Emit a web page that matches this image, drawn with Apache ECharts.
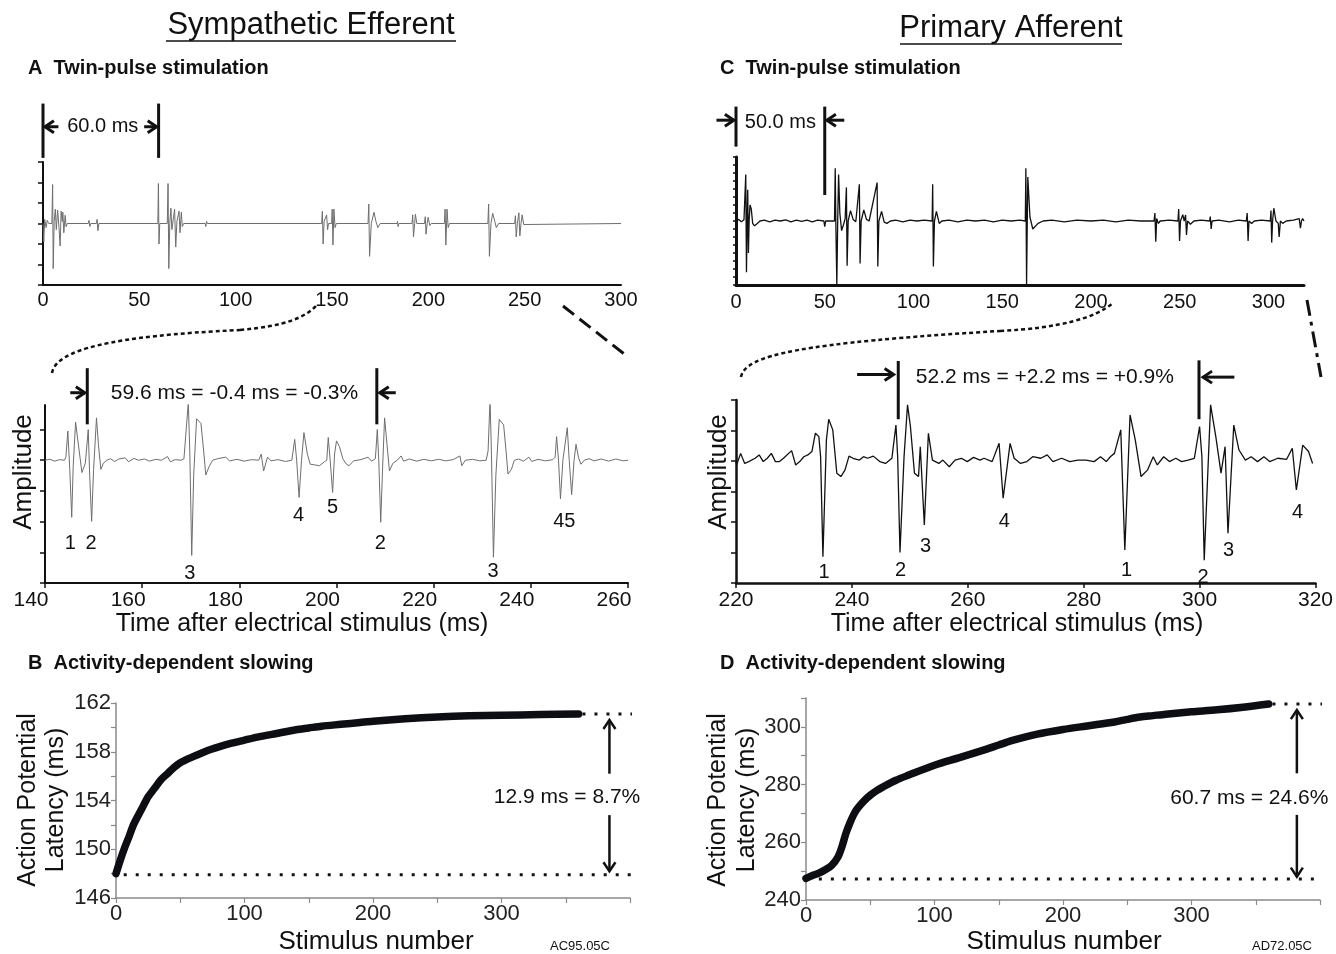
<!DOCTYPE html>
<html><head><meta charset="utf-8">
<script src="https://cdn.jsdelivr.net/npm/echarts@6/dist/echarts.min.js"></script>
<style>html,body{margin:0;padding:0;background:#fff}#c{width:1336px;height:954px}</style>
</head><body><div id="c"></div>
<script>
// ---------------- DATA ----------------
// A (top): sympathetic efferent, full sweep 0-300 ms, amplitude in tick units
const aTopTrace = [[0,0],[0.4,-0.9],[0.9,0.2],[1.6,-0.2],[2.2,0.15],[3.0,0],[4.6,0],[5.0,1.9],[5.3,-2.2],[5.8,0.1],[6.4,0.7],[6.9,-0.3],[7.6,0.65],[8.3,-0.2],[8.9,-1.1],[9.4,0.6],[10.0,0.1],[10.3,0.55],[10.8,-0.45],[11.5,0.4],[12.0,-0.15],[12.6,0],[23.5,0],[23.9,0.15],[24.3,-0.15],[24.8,0],[27.7,0],[28.1,0.2],[28.5,-0.35],[29,0],
[59.6,0],[59.9,1.95],[60.2,-1.0],[60.6,0],[64.5,0],[64.9,1.95],[65.3,-2.2],[65.8,0],[66.4,0.75],[66.9,-0.3],[68.3,0.7],[68.9,-1.15],[69.5,0.1],[70.6,0.6],[71.1,-0.45],[71.8,0.55],[72.3,-0.15],[73,0],[84.2,0],[84.5,-0.15],[84.9,0.1],[85.3,0],
[144.6,0],[145.0,0.6],[145.4,-1.0],[145.9,0.1],[147.2,0.42],[147.7,-0.3],[148.2,0],[149.8,0],[150.1,0.7],[150.5,-1.05],[151.0,0.7],[151.6,-0.2],[152.2,0],
[168.7,0],[169.1,0.95],[169.5,-1.6],[170.4,0],[171.8,0.55],[172.8,0.1],[173.8,-0.2],[175,0],[183.7,0],[184,0.1],[184.3,-0.15],[184.7,0],
[191.5,0],[191.9,0.42],[192.3,-0.65],[192.9,0],[193.3,0.45],[194.0,0],[198.0,0],[198.4,0.33],[198.8,-0.52],[199.4,0],[199.9,0.3],[200.8,-0.1],[201.5,0],
[208.3,0],[208.7,0.7],[209.1,-1.05],[209.7,0.7],[210.3,-0.2],[211,0],
[230.9,0],[231.3,0.95],[231.7,-1.6],[232.5,0],[233.4,0.5],[234.5,0.1],[235.3,-0.2],[236.5,0],
[244.8,0],[245.2,0.38],[245.6,-0.65],[246.2,0],[247.0,0.52],[247.5,-0.6],[248.1,0],[248.7,0.42],[249.5,-0.05],[250.2,0],[300,0]];

// A (bottom): expanded 140-260 ms
const aBottomTrace = [[140,0],[141,0.03],[142,-0.03],[143,0.02],[144,0],[144.3,0.1],[144.7,0.95],[145.1,-0.3],[145.5,-1.86],[145.8,-0.2],[146.3,1.24],[146.8,0.6],[147.6,-0.4],[148.3,-0.1],[148.9,1.0],[149.2,-0.5],[149.6,-1.99],[150.0,-0.3],[150.6,1.38],[151.0,0.5],[151.5,-0.3],[152.0,-0.1],[152.7,0],[153.5,0.05],[154.3,-0.04],[155.2,0.04],[156.5,0.08],[157.2,-0.05],[158.3,0.06],[159.2,0],[160.5,0.04],[161.5,-0.03],[162.8,0.03],[164,0],[165.2,0.12],[165.8,-0.05],[166.8,0.02],[168,0],[168.6,0.05],[169.5,1.89],[169.8,0.3],[170.2,-3.1],[170.6,-0.5],[171.2,1.35],[172.1,1.2],[172.6,0.4],[173.1,-0.48],[173.8,-0.2],[174.5,0],[175.5,0.05],[177.2,0.1],[178,-0.02],[179.5,0.03],[181,-0.03],[182.5,0.02],[184,0],[184.5,0.2],[185.0,-0.35],[185.8,0.1],[186.5,-0.02],[188,0.02],[189.5,-0.04],[190.8,0],[191.4,0.68],[191.8,0],[192.3,-1.21],[192.8,0],[193.3,0.9],[194,0.2],[194.6,-0.13],[195.5,-0.15],[196.5,-0.18],[197.5,-0.05],[198.0,0],[198.3,0.74],[198.7,0],[199.2,-1.05],[199.6,0.2],[200.0,0.63],[200.6,0.45],[201.3,0.05],[202.0,-0.12],[202.6,-0.18],[203.5,-0.02],[205,0.02],[206.5,0.1],[207.2,-0.03],[208.0,0.05],[208.4,1.0],[208.7,0],[209.1,-2.02],[209.5,-0.2],[209.9,1.38],[210.4,0.5],[210.9,-0.35],[211.6,-0.1],[212.5,0],[213.3,0.14],[213.8,-0.03],[215,0.04],[216.5,-0.03],[218,0.03],[219.5,-0.02],[221,0.03],[222.5,-0.02],[224,0.02],[225.4,0.14],[225.8,-0.18],[226.5,0],[228,0.03],[229.5,-0.02],[230.8,0],[231.2,0.3],[231.6,1.98],[231.9,0.2],[232.3,-3.16],[232.8,-0.5],[233.5,1.33],[234.4,1.15],[234.9,0.3],[235.3,-0.45],[236.0,-0.3],[236.6,0],[237.5,0.04],[238.5,-0.03],[239.6,0.1],[240.2,-0.04],[241.5,0.03],[243,-0.02],[244.5,0.02],[245.0,0.1],[245.3,0.77],[245.7,0],[246.1,-1.26],[246.6,0],[247.5,1.06],[247.9,0],[248.4,-1.12],[248.9,0],[249.3,0.52],[249.8,0.1],[250.3,-0.13],[251,0],[252,0.05],[253,-0.02],[254.5,0.04],[256,-0.03],[257.5,0.04],[259,-0.02],[260,0]];

// C (top): primary afferent, full sweep 0-320 ms
const cTopTrace = [[0,0],[1.5,0.2],[3,-0.1],[4.5,0.15],[5.2,0],[5.5,5.8],[5.9,-6.4],[6.3,0.5],[6.6,3.9],[7.0,-4.0],[7.4,0],[7.9,2.0],[8.6,1.5],[9.4,-0.3],[10.4,-0.6],[12,-0.3],[13.5,0],[16,0.1],[19,-0.1],[22,0.1],[25,0],[28,0.15],[31,-0.1],[34,0.1],[37,-0.05],[40,0.1],[43,-0.1],[46,0.1],[49.5,0],[50,-0.7],[50.5,0],[55.5,0],[55.9,6.6],[56.3,-1],[56.8,-7.9],[57.3,0],[57.8,5.8],[58.5,1.0],[59.5,-1.2],[60.5,-0.5],[61.5,0.3],[62.2,4.2],[62.6,-5.6],[63.2,0],[64.5,1.3],[66,0.2],[67.5,-0.1],[69.5,4.6],[69.9,-5.3],[70.5,0],[72,1.4],[73.5,0.2],[75,0],[79.5,4.8],[79.9,-5.7],[80.5,0],[82,1.2],[83.5,-0.15],[85,-0.3],[87,0],[90,0.1],[94,-0.1],[98,0.1],[102,0],[106,0.1],[110.5,0],[110.8,4.6],[111.2,-5.7],[111.8,0],[112.9,1.2],[114.5,-0.3],[116,0],[120,0.1],[125,-0.1],[130,0.1],[135,0],[140,0.1],[145,-0.1],[150,0.1],[155,0],[160,0.1],[163.0,0],[163.3,6.6],[163.7,-7.9],[164.1,0],[164.4,5.5],[165.6,0.5],[167.2,-1.0],[170.2,-0.3],[173,0],[178,0.1],[185,-0.1],[192,0.1],[200,0],[207,0.1],[214,-0.1],[221,0.1],[228,0],[235.5,0],[236,1.0],[236.5,-2.6],[237,0.3],[238,-0.3],[239,0],[244,0.1],[249,0],[249.4,1.5],[249.9,-2.5],[250.4,0],[251.7,0.8],[252.5,0],[253.3,0.75],[253.8,-1.75],[254.4,0],[256,-0.4],[258,0],[262,0.1],[266.8,0],[267.2,0.55],[267.7,-1.0],[268.2,0],[272,0.1],[278,-0.1],[283,0.1],[287.5,0],[288,1.0],[288.5,-2.5],[289,0],[290.5,-0.3],[292,0],[296,0.1],[301,0],[301.4,1.3],[301.8,-2.7],[302.3,0],[303,1.6],[304.2,0],[305.5,-0.3],[306,-2.0],[306.7,0],[308,-0.3],[310,0],[314,0.1],[317.3,0.3],[318,-0.9],[318.6,0],[319.2,0.3],[320,0]];

// C (bottom): expanded 220-320 ms
const cBottomTrace = [[220,-0.02],[220.1,-0.13],[220.8,0.25],[221.5,-0.08],[222.2,-0.02],[223.3,0.09],[224.0,0.2],[224.7,-0.02],[225.4,0.09],[226.1,0.25],[226.8,-0.02],[227.5,-0.02],[228.2,0.09],[229.6,0.34],[230.3,-0.13],[231.0,-0.02],[231.7,0.14],[232.4,0.2],[233.1,0.31],[233.7,0.91],[234.3,0.8],[234.6,0.14],[235.0,-3.14],[235.6,0.69],[236.0,1.37],[236.7,1.02],[237.4,-0.4],[238.1,-0.51],[238.8,-0.3],[239.5,0.16],[240.2,0.09],[241.3,0.03],[242.0,0.14],[242.7,0.09],[243.7,0.16],[244.8,-0.02],[245.8,-0.08],[246.9,0.09],[247.6,1.18],[247.9,0.14],[248.3,-3.0],[249.0,0.14],[249.6,1.84],[250.1,1.13],[250.8,-0.4],[251.5,-0.51],[251.8,0.47],[252.5,-2.1],[253.2,0.91],[253.9,0.03],[255.0,-0.08],[255.7,0.03],[256.8,-0.19],[257.8,0.03],[258.9,0.09],[259.9,-0.02],[261.0,0.12],[262.1,0.03],[262.8,0.09],[264.2,-0.02],[265.4,0.58],[266.1,-1.22],[267.3,0.58],[268.0,0.09],[269.1,-0.08],[270.2,-0.02],[271.2,0.14],[272.6,0.09],[273.7,0.2],[274.7,-0.02],[276.2,0.09],[277.6,-0.02],[279.0,0.03],[280.4,0.03],[281.8,-0.02],[282.9,0.14],[283.9,-0.02],[284.6,0.14],[285.3,0.25],[286.4,1.02],[287.1,-2.92],[288.0,1.51],[288.9,0.69],[289.9,-0.51],[291.0,-0.3],[292.0,0.14],[292.7,-0.13],[293.8,0.14],[294.8,-0.02],[295.9,0.09],[296.9,-0.02],[298.0,0.03],[299.1,0.09],[300.0,1.13],[300.4,0.14],[300.8,-3.25],[301.9,1.84],[302.8,0.8],[303.7,-0.4],[304.4,0.47],[304.9,-2.37],[305.9,1.18],[306.8,0.36],[307.9,0.03],[308.9,0.14],[310.0,-0.02],[311.1,0.14],[312.1,-0.02],[313.5,0.09],[315.0,0.05],[316.0,0.42],[316.7,-0.95],[317.8,0.52],[318.8,0.31],[319.5,-0.08]];

// B: latency vs stimulus number (sympathetic)
const bLatency = [[0,148.0],[3,149.0],[7,150.2],[10,151.0],[14,152.1],[20,153.3],[25,154.3],[30,155.0],[35,155.7],[40,156.2],[45,156.7],[50,157.1],[60,157.6],[70,158.05],[80,158.4],[90,158.7],[100,158.95],[110,159.2],[125,159.5],[140,159.8],[150,159.95],[160,160.1],[175,160.25],[190,160.4],[200,160.5],[225,160.7],[250,160.85],[275,160.95],[300,161.0],[330,161.05],[360,161.1]];
const bBaseline = 147.9, bPlateau = 161.1;

// D: latency vs stimulus number (afferent)
const dLatency = [[0,247.5],[5,248.5],[10,249.3],[15,250.5],[20,252.0],[25,255.0],[28,258.5],[31,263.0],[34,266.5],[37,269.5],[40,271.7],[45,274.3],[50,276.3],[55,277.9],[60,279.2],[70,281.5],[80,283.3],[100,286.7],[120,289.4],[140,292.2],[150,293.7],[160,295.2],[180,297.5],[200,299.1],[220,300.4],[240,301.7],[250,302.6],[260,303.4],[270,303.9],[280,304.4],[300,305.2],[320,305.9],[340,306.8],[360,307.9]];
const dBaseline = 247.3, dPlateau = 307.9;

const aUnitNames = ['1','2','3','4','5','2','3','45'];
const cUnitNames = ['1','2','3','4','1','2','3','4'];

// ---------------- LAYOUT ----------------
const FONT = '"Liberation Sans", Arial, Helvetica, sans-serif';
const INK = '#111';

const aUnitPos = [[145.2,-2.72],[149.5,-2.72],[169.8,-3.7],[192.2,-1.8],[199.2,-1.54],[209.0,-2.72],[232.2,-3.64],[246.9,-2.0]];
const cUnitPos = [[235.2,-3.66],[248.4,-3.6],[252.7,-2.79],[266.3,-1.97],[287.4,-3.6],[300.6,-3.83],[305.0,-2.95],[316.9,-1.69]];

const annA = [
  {type:'seg', x1:0, y1:3.2, x2:0, y2:5.85},
  {type:'seg', x1:60, y1:3.2, x2:60, y2:5.85},
  {type:'arrow', x1:8, y1:4.72, x2:1, y2:4.72},
  {type:'arrow', x1:52.5, y1:4.72, x2:59, y2:4.72},
  {type:'text', x1:31, y1:4.72, text:'60.0 ms', size:20}
];
const annA2 = [
  {type:'seg', x1:148.7, y1:1.17, x2:148.7, y2:3.0},
  {type:'seg', x1:208.3, y1:1.17, x2:208.3, y2:3.0},
  {type:'arrow', x1:145.2, y1:2.2, x2:148.2, y2:2.2},
  {type:'arrow', x1:212.2, y1:2.2, x2:208.9, y2:2.2},
  {type:'text', x1:179, y1:2.2, text:'59.6 ms = -0.4 ms = -0.3%', size:21}
].concat(aUnitNames.map((n,i)=>({type:'text', x1:aUnitPos[i][0], y1:aUnitPos[i][1], text:n, size:20})));
const annC = [
  {type:'seg', x1:0, y1:9.3, x2:0, y2:14.3},
  {type:'seg', x1:50, y1:3.25, x2:50, y2:14.3},
  {type:'arrow', x1:-11, y1:12.6, x2:-1.2, y2:12.6},
  {type:'arrow', x1:61, y1:12.6, x2:51.2, y2:12.6},
  {type:'text', x1:25, y1:12.3, text:'50.0 ms', size:20}
];
const annC2 = [
  {type:'seg', x1:248.0, y1:1.37, x2:248.0, y2:3.28},
  {type:'seg', x1:299.9, y1:1.37, x2:299.9, y2:3.3},
  {type:'arrow', x1:240.9, y1:2.84, x2:247.2, y2:2.84},
  {type:'arrow', x1:306.0, y1:2.75, x2:300.6, y2:2.75},
  {type:'text', x1:273.3, y1:2.75, text:'52.2 ms = +2.2 ms = +0.9%', size:21}
].concat(cUnitNames.map((n,i)=>({type:'text', x1:cUnitPos[i][0], y1:cUnitPos[i][1], text:n, size:20})));
const annB = [
  {type:'arrow', x1:384, y1:156.2, x2:384, y2:160.6, w:2.5},
  {type:'arrow', x1:384, y1:152.8, x2:384, y2:148.2, w:2.5},
  {type:'text', x1:351, y1:154.3, text:'12.9 ms = 8.7%', size:21}
];
const annD = [
  {type:'arrow', x1:382, y1:283.9, x2:382, y2:305.8, w:2.5},
  {type:'arrow', x1:382, y1:269.5, x2:382, y2:248.1, w:2.5},
  {type:'text', x1:345, y1:275.2, text:'60.7 ms = 24.6%', size:21}
];

function annotSeries(gi, items) {
  return {
    type:'custom', xAxisIndex:gi, yAxisIndex:gi, silent:true, clip:false, z:5,
    data: items.map(a => [a.x1, a.y1]),
    renderItem: function (params, api) {
      const a = items[params.dataIndex];
      const p1 = api.coord([a.x1, a.y1]);
      if (a.type === 'text') {
        return {type:'text', style:{text:a.text, x:p1[0], y:p1[1], align:'center', verticalAlign:'middle',
          fontSize:a.size || 20, fontFamily:FONT, fill:INK}};
      }
      const p2 = api.coord([a.x2, a.y2]);
      const w = a.w || 3;
      const ch = [{type:'line', shape:{x1:p1[0], y1:p1[1], x2:p2[0], y2:p2[1]}, style:{stroke:INK, lineWidth:w}}];
      if (a.type === 'arrow') {
        const dx = p2[0]-p1[0], dy = p2[1]-p1[1], L = Math.hypot(dx,dy) || 1;
        const ux = dx/L, uy = dy/L, nx = -uy, ny = ux, hl = 9, hw = 6;
        ch.push({type:'polyline', shape:{points:[[p2[0]-ux*hl+nx*hw, p2[1]-uy*hl+ny*hw],[p2[0],p2[1]],[p2[0]-ux*hl-nx*hw, p2[1]-uy*hl-ny*hw]]},
          style:{stroke:INK, lineWidth:w, fill:null}});
      }
      return {type:'group', children:ch};
    }
  };
}

function ax(o) {
  const base = {type:'value', splitLine:{show:false},
    axisLine:{show:true, onZero:false, lineStyle:{color:INK, width:2}},
    axisTick:{show:false}, axisLabel:{show:false}};
  return Object.assign(base, o);
}
const lbl = (extra) => Object.assign({show:true, color:INK, fontFamily:FONT, fontSize:20}, extra);
const grayLine = {show:true, onZero:false, lineStyle:{color:'#8a8a8a', width:1.5}};
const grayTick = {show:true, length:5, lineStyle:{color:'#8a8a8a', width:1.2}};

const option = {
  animation:false,
  backgroundColor:'#fff',
  grid:[
    {left:43, top:162, width:578, height:123},
    {left:45, top:405, width:583, height:178},
    {left:736, top:157, width:568, height:128},
    {left:736, top:400, width:583, height:183},
    {left:116, top:703, width:514, height:195},
    {left:806, top:698, width:514, height:202}
  ],
  xAxis:[
    ax({gridIndex:0, min:0, max:300, interval:50, axisLabel:lbl({margin:5})}),
    ax({gridIndex:1, min:140, max:260, interval:20,
        axisTick:{show:true, length:5, lineStyle:{color:INK, width:1.5}},
        axisLabel:lbl({margin:7, fontSize:21, padding:[0,28,0,0]})}),
    ax({gridIndex:2, min:0, max:320, interval:50, axisLine:{show:true, onZero:false, lineStyle:{color:INK, width:3}},
        axisLabel:lbl({margin:7, formatter:v => (v % 50 === 0 ? String(v) : '')})}),
    ax({gridIndex:3, min:220, max:320, interval:20, axisLine:{show:true, onZero:false, lineStyle:{color:INK, width:2.5}},
        axisTick:{show:true, length:5, lineStyle:{color:INK, width:1.5}}, axisLabel:lbl({margin:7, fontSize:21})}),
    ax({gridIndex:4, min:0, max:400, interval:50, axisLine:grayLine, axisTick:grayTick,
        axisLabel:lbl({margin:5, fontSize:22, color:'#222', formatter:v => (v % 100 === 0 && v < 400 ? String(v) : '')})}),
    ax({gridIndex:5, min:0, max:400, interval:50, axisLine:grayLine, axisTick:grayTick,
        axisLabel:lbl({margin:5, fontSize:22, color:'#222', formatter:v => (v % 100 === 0 && v < 400 ? String(v) : '')})})
  ],
  yAxis:[
    ax({gridIndex:0, min:-3, max:3, interval:1, axisTick:{show:true, length:5, lineStyle:{color:INK, width:1.5}}}),
    ax({gridIndex:1, min:-4, max:1.8, interval:1, axisTick:{show:true, length:5, customValues:[-4,-3,-2,-1,0,1], lineStyle:{color:INK, width:1.5}}}),
    ax({gridIndex:2, min:-8, max:8, interval:1, axisLine:{show:true, onZero:false, lineStyle:{color:INK, width:3}},
        axisTick:{show:true, length:3, lineStyle:{color:INK, width:1.5}}}),
    ax({gridIndex:3, min:-4, max:2, interval:1, axisLine:{show:true, onZero:false, lineStyle:{color:INK, width:2.5}},
        axisTick:{show:true, length:5, lineStyle:{color:INK, width:1.5}}}),
    ax({gridIndex:4, min:146, max:162, interval:2, axisLine:grayLine, axisTick:grayTick,
        axisLabel:lbl({margin:5, fontSize:22, color:'#222', formatter:v => ((v - 146) % 4 === 0 ? String(v) : '')})}),
    ax({gridIndex:5, min:240, max:310, interval:10, axisLine:grayLine, axisTick:grayTick,
        axisLabel:lbl({margin:5, fontSize:22, color:'#222', formatter:v => ((v - 240) % 20 === 0 && v <= 300 ? String(v) : '')})})
  ],
  series:[
    {type:'line', xAxisIndex:0, yAxisIndex:0, data:aTopTrace, showSymbol:false, lineStyle:{color:'#6e6e6e', width:1}},
    {type:'line', xAxisIndex:1, yAxisIndex:1, data:aBottomTrace, showSymbol:false, lineStyle:{color:'#6e6e6e', width:1}},
    {type:'line', xAxisIndex:2, yAxisIndex:2, data:cTopTrace, showSymbol:false, lineStyle:{color:INK, width:1.3}},
    {type:'line', xAxisIndex:3, yAxisIndex:3, data:cBottomTrace, showSymbol:false, lineStyle:{color:INK, width:1.3}},
    {type:'line', xAxisIndex:4, yAxisIndex:4, data:bLatency, showSymbol:false, smooth:0.3,
      lineStyle:{color:'#0d0d14', width:7.5, cap:'round', join:'round'}},
    {type:'line', xAxisIndex:5, yAxisIndex:5, data:dLatency, showSymbol:false, smooth:0.3,
      lineStyle:{color:'#0d0d14', width:7.5, cap:'round', join:'round'}},
    {type:'line', xAxisIndex:4, yAxisIndex:4, data:[[6,bBaseline],[403,bBaseline]], showSymbol:false, clip:false,
      lineStyle:{color:INK, width:3, type:[3,9]}},
    {type:'line', xAxisIndex:4, yAxisIndex:4, data:[[363,bPlateau],[403,bPlateau]], showSymbol:false, clip:false,
      lineStyle:{color:INK, width:3, type:[3,9]}},
    {type:'line', xAxisIndex:5, yAxisIndex:5, data:[[10,dBaseline],[403,dBaseline]], showSymbol:false, clip:false,
      lineStyle:{color:INK, width:3, type:[3,9]}},
    {type:'line', xAxisIndex:5, yAxisIndex:5, data:[[363,dPlateau],[403,dPlateau]], showSymbol:false, clip:false,
      lineStyle:{color:INK, width:3, type:[3,9]}},
    annotSeries(0, annA), annotSeries(1, annA2), annotSeries(2, annC), annotSeries(3, annC2),
    annotSeries(4, annB), annotSeries(5, annD)
  ],
  graphic:[
    {type:'text', x:311, y:25, style:{text:'Sympathetic Efferent', font:'31px ' + FONT, fill:INK, align:'center', verticalAlign:'middle'}},
    {type:'line', shape:{x1:166, y1:41, x2:456, y2:41}, style:{stroke:INK, lineWidth:1.6}},
    {type:'text', x:1011, y:28, style:{text:'Primary Afferent', font:'31px ' + FONT, fill:INK, align:'center', verticalAlign:'middle'}},
    {type:'line', shape:{x1:900, y1:44, x2:1122, y2:44}, style:{stroke:INK, lineWidth:1.6}},
    {type:'text', x:28, y:68, style:{text:'A  Twin-pulse stimulation', font:'bold 20px ' + FONT, fill:INK, align:'left', verticalAlign:'middle'}},
    {type:'text', x:720, y:68, style:{text:'C  Twin-pulse stimulation', font:'bold 20px ' + FONT, fill:INK, align:'left', verticalAlign:'middle'}},
    {type:'text', x:28, y:663, style:{text:'B  Activity-dependent slowing', font:'bold 20px ' + FONT, fill:INK, align:'left', verticalAlign:'middle'}},
    {type:'text', x:720, y:663, style:{text:'D  Activity-dependent slowing', font:'bold 20px ' + FONT, fill:INK, align:'left', verticalAlign:'middle'}},
    {type:'text', x:24, y:472, rotation:Math.PI/2, style:{text:'Amplitude', font:'26px ' + FONT, fill:INK, align:'center', verticalAlign:'middle'}},
    {type:'text', x:719, y:472, rotation:Math.PI/2, style:{text:'Amplitude', font:'26px ' + FONT, fill:INK, align:'center', verticalAlign:'middle'}},
    {type:'text', x:302, y:624, style:{text:'Time after electrical stimulus (ms)', font:'25px ' + FONT, fill:INK, align:'center', verticalAlign:'middle'}},
    {type:'text', x:1017, y:624, style:{text:'Time after electrical stimulus (ms)', font:'25px ' + FONT, fill:INK, align:'center', verticalAlign:'middle'}},
    {type:'text', x:376, y:942, style:{text:'Stimulus number', font:'26px ' + FONT, fill:INK, align:'center', verticalAlign:'middle'}},
    {type:'text', x:1064, y:942, style:{text:'Stimulus number', font:'26px ' + FONT, fill:INK, align:'center', verticalAlign:'middle'}},
    {type:'text', x:28, y:800, rotation:Math.PI/2, style:{text:'Action Potential', font:'25px ' + FONT, fill:INK, align:'center', verticalAlign:'middle'}},
    {type:'text', x:56, y:800, rotation:Math.PI/2, style:{text:'Latency (ms)', font:'25px ' + FONT, fill:INK, align:'center', verticalAlign:'middle'}},
    {type:'text', x:718, y:800, rotation:Math.PI/2, style:{text:'Action Potential', font:'25px ' + FONT, fill:INK, align:'center', verticalAlign:'middle'}},
    {type:'text', x:747, y:800, rotation:Math.PI/2, style:{text:'Latency (ms)', font:'25px ' + FONT, fill:INK, align:'center', verticalAlign:'middle'}},
    {type:'text', x:580, y:946, style:{text:'AC95.05C', font:'13px ' + FONT, fill:INK, align:'center', verticalAlign:'middle'}},
    {type:'text', x:1282, y:946, style:{text:'AD72.05C', font:'13px ' + FONT, fill:INK, align:'center', verticalAlign:'middle'}},
    // connectors between the full sweeps and the expanded sweeps
    {type:'bezierCurve', shape:{x1:52, y1:373, cpx1:56, cpy1:350, cpx2:110, cpy2:336, x2:240, y2:330}, style:{stroke:INK, lineWidth:2.5, lineDash:[4,3], fill:null}},
    {type:'bezierCurve', shape:{x1:240, y1:330, cpx1:285, cpy1:326, cpx2:305, cpy2:318, x2:318, y2:304}, style:{stroke:INK, lineWidth:2.5, lineDash:[4,3], fill:null}},
    {type:'line', shape:{x1:563, y1:306, x2:628, y2:357}, style:{stroke:INK, lineWidth:3, lineDash:[14,7]}},
    {type:'bezierCurve', shape:{x1:741, y1:377, cpx1:745, cpy1:355, cpx2:800, cpy2:343, x2:1000, y2:331}, style:{stroke:INK, lineWidth:2.5, lineDash:[4,3], fill:null}},
    {type:'bezierCurve', shape:{x1:1000, y1:331, cpx1:1060, cpy1:328, cpx2:1095, cpy2:318, x2:1113, y2:303}, style:{stroke:INK, lineWidth:2.5, lineDash:[4,3], fill:null}},
    {type:'line', shape:{x1:1307, y1:300, x2:1321, y2:377}, style:{stroke:INK, lineWidth:3, lineDash:[16,6,4,6]}}
  ]
};

const chart = echarts.init(document.getElementById('c'), null, {renderer:'canvas'});
chart.setOption(option);
</script></body></html>
